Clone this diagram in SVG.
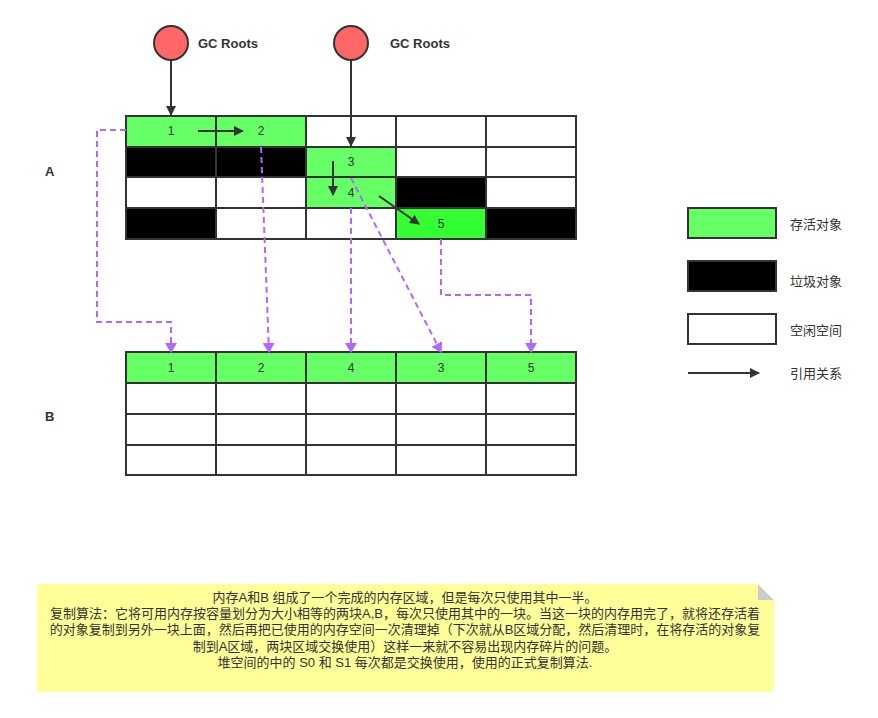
<svg xmlns="http://www.w3.org/2000/svg" width="878" height="718" viewBox="0 0 878 718">
<style>
text{font-family:"Liberation Sans","Noto Sans CJK SC",sans-serif;fill:#333}
.n{font-size:12px;text-anchor:middle}
.b{font-size:13px;font-weight:bold}
.l{font-size:13px}
.c{stroke:#333;stroke-width:2}
.g{fill:#66FF66}.k{fill:#000}.w{fill:#fff}.g2{fill:#33FF33}
.ref{stroke:#333;stroke-width:2;fill:none;marker-end:url(#ah)}
.cp{stroke:#B266FF;stroke-width:2;stroke-dasharray:6 4;fill:none;marker-end:url(#ph)}
.note{font-size:13px;text-anchor:middle}
</style>
<defs>
<marker id="ah" markerWidth="10" markerHeight="10" refX="9" refY="5" orient="auto" markerUnits="userSpaceOnUse"><path d="M0,0 L10,5 L0,10 Z" fill="#333"/></marker>
<marker id="ph" markerWidth="10" markerHeight="12" refX="9" refY="6" orient="auto" markerUnits="userSpaceOnUse"><path d="M0,0 L10,6 L0,12 Z" fill="#B266FF"/></marker>
</defs>
<rect width="878" height="718" fill="#fff"/>

<g id="root1"><circle cx="171" cy="43" r="17" fill="#FF6666" stroke="#333" stroke-width="2"/><text class="b" x="198" y="48">GC Roots</text></g>
<g id="root2"><circle cx="351" cy="43" r="17" fill="#FF6666" stroke="#333" stroke-width="2"/><text class="b" x="390" y="48">GC Roots</text></g>

<text class="b" x="45" y="176">A</text>
<text class="b" x="45" y="421">B</text>

<g id="gridA">
<rect class="c g" x="126" y="116" width="90" height="31"/><rect class="c g" x="216" y="116" width="90" height="31"/><rect class="c w" x="306" y="116" width="90" height="31"/><rect class="c w" x="396" y="116" width="90" height="31"/><rect class="c w" x="486" y="116" width="90" height="31"/>
<rect class="c k" x="126" y="147" width="90" height="30"/><rect class="c k" x="216" y="147" width="90" height="30"/><rect class="c g" x="306" y="147" width="90" height="30"/><rect class="c w" x="396" y="147" width="90" height="30"/><rect class="c w" x="486" y="147" width="90" height="30"/>
<rect class="c w" x="126" y="177" width="90" height="31"/><rect class="c w" x="216" y="177" width="90" height="31"/><rect class="c g" x="306" y="177" width="90" height="31"/><rect class="c k" x="396" y="177" width="90" height="31"/><rect class="c w" x="486" y="177" width="90" height="31"/>
<rect class="c k" x="126" y="208" width="90" height="31"/><rect class="c w" x="216" y="208" width="90" height="31"/><rect class="c w" x="306" y="208" width="90" height="31"/><rect class="c g2" x="396" y="208" width="90" height="31"/><rect class="c k" x="486" y="208" width="90" height="31"/>
<text class="n" x="171" y="135">1</text><text class="n" x="261" y="135">2</text><text class="n" x="351" y="166">3</text><text class="n" x="351" y="197">4</text><text class="n" x="441" y="228">5</text>
</g>

<g id="gridB">
<rect class="c g" x="126" y="352" width="90" height="31"/><rect class="c g" x="216" y="352" width="90" height="31"/><rect class="c g" x="306" y="352" width="90" height="31"/><rect class="c g" x="396" y="352" width="90" height="31"/><rect class="c g" x="486" y="352" width="90" height="31"/>
<rect class="c w" x="126" y="383" width="90" height="31"/><rect class="c w" x="216" y="383" width="90" height="31"/><rect class="c w" x="306" y="383" width="90" height="31"/><rect class="c w" x="396" y="383" width="90" height="31"/><rect class="c w" x="486" y="383" width="90" height="31"/>
<rect class="c w" x="126" y="414" width="90" height="31"/><rect class="c w" x="216" y="414" width="90" height="31"/><rect class="c w" x="306" y="414" width="90" height="31"/><rect class="c w" x="396" y="414" width="90" height="31"/><rect class="c w" x="486" y="414" width="90" height="31"/>
<rect class="c w" x="126" y="445" width="90" height="30"/><rect class="c w" x="216" y="445" width="90" height="30"/><rect class="c w" x="306" y="445" width="90" height="30"/><rect class="c w" x="396" y="445" width="90" height="30"/><rect class="c w" x="486" y="445" width="90" height="30"/>
<text class="n" x="171" y="372">1</text><text class="n" x="261" y="372">2</text><text class="n" x="351" y="372">4</text><text class="n" x="441" y="372">3</text><text class="n" x="531" y="372">5</text>
</g>

<g id="connectors">
<path class="ref" d="M171,60 L171,115"/>
<path class="ref" d="M351,60 L351,146"/>
<path class="ref" d="M198,131 L243,131"/>
<path class="ref" d="M333,161 L333,195"/>
<path class="ref" d="M379,196 L419,224"/>
<path class="cp" d="M126,130 L97,130 L97,322 L171,322 L171,352"/>
<path class="cp" d="M261,147 L269,352"/>
<path class="cp" d="M351,208 L351,352"/>
<path class="cp" d="M351,178 L441,352"/>
<path class="cp" d="M441,239 L441,295 L531,295 L531,352"/>
</g>

<g id="legend">
<rect class="c g" x="688" y="208" width="88" height="30"/><text class="l" x="790" y="229">存活对象</text>
<rect class="c k" x="688" y="261" width="88" height="30"/><text class="l" x="790" y="286">垃圾对象</text>
<rect class="c w" x="688" y="314" width="88" height="30"/><text class="l" x="790" y="335">空闲空间</text>
<path class="ref" d="M688,373 L759,373"/><text class="l" x="790" y="378">引用关系</text>
</g>

<g id="note">
<path d="M37,584 L758,584 L774,600 L774,692 L37,692 Z" fill="#FFFF99"/>
<path d="M758,584 L774,600 L758,600 Z" fill="#ccc"/>
<path d="M758,584 L774,600 L774,584 Z" fill="#fff"/>
<text class="note" x="405" y="602">内存A和B 组成了一个完成的内存区域，但是每次只使用其中一半。</text>
<text class="note" x="405" y="618">复制算法：它将可用内存按容量划分为大小相等的两块A,B，每次只使用其中的一块。当这一块的内存用完了，就将还存活着</text>
<text class="note" x="405" y="634">的对象复制到另外一块上面，然后再把已使用的内存空间一次清理掉（下次就从B区域分配，然后清理时，在将存活的对象复</text>
<text class="note" x="405" y="651">制到A区域，两块区域交换使用）这样一来就不容易出现内存碎片的问题。</text>
<text class="note" x="405" y="667">堆空间的中的 S0 和 S1 每次都是交换使用，使用的正式复制算法.</text>
</g>
</svg>
